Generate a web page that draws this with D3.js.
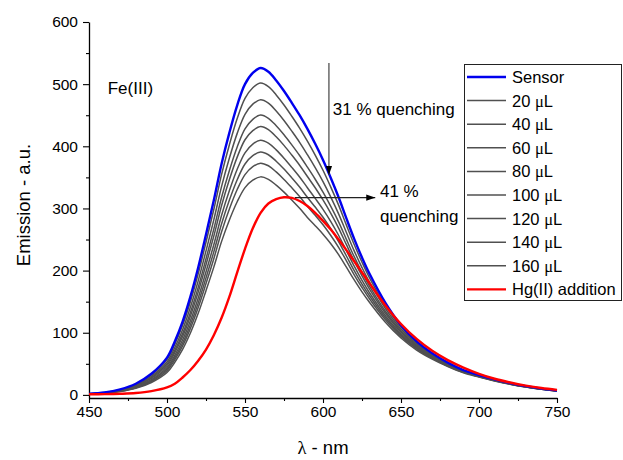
<!DOCTYPE html>
<html>
<head>
<meta charset="utf-8">
<script src="https://cdn.jsdelivr.net/npm/d3@7"></script>
<style>
body { margin: 0; background: #fff; }
text { font-family: "Liberation Sans", Arial, sans-serif; fill: #000; }
</style>
</head>
<body>
<svg id="chart" width="623" height="460"></svg>
<script>
// wavelengths, nm
var wavelengths = [450,460,470,480,490,500,505,510,515,520,525,530,535,540,545,550,555,560,565,570,575,580,585,590,595,600,605,610,615,620,625,630,640,650,660,670,680,690,700,710,720,730,740,750];

var sensor = [2,4,9,18,34,60,86,118,158,205,258,313,372,422,466,500,518,526,520,506,489,470,450,428,404,378,349,318,284,251,221,194,148,112,86,67,52,40,32,25,19,14,10,7];
var ul20  = [1.9,3.8,8.5,17.0,32.1,56.7,81.4,111.9,149.9,194.8,245.6,298.3,354.9,402.6,444.6,477.0,494.2,501.8,496.1,482.7,466.5,448.4,429.3,408.3,385.8,361.4,334.3,305.3,273.2,242.0,213.5,187.6,143.7,109.2,84.1,65.7,51.1,39.4,31.6,24.7,18.7,13.8,9.9,6.9];
var ul40  = [1.8,3.5,7.9,15.8,29.9,53.0,76.3,104.9,140.9,183.5,231.7,281.7,335.5,381.1,420.8,451.5,467.8,475.0,469.6,456.9,441.6,424.4,406.4,386.5,365.6,343.2,318.3,291.3,261.3,231.7,204.9,180.6,139.0,106.1,82.0,64.3,50.1,38.7,31.1,24.3,18.4,13.6,9.7,6.8];
var ul60  = [1.6,3.3,7.4,14.8,27.9,49.6,71.6,98.6,132.7,173.0,219.0,266.7,318.1,361.2,398.9,428.0,443.4,450.3,445.1,433.1,418.6,402.3,385.2,366.4,347.0,326.2,303.3,278.3,250.2,222.4,197.1,174.2,134.5,103.2,80.1,63.0,49.2,38.1,30.6,23.9,18.2,13.4,9.6,6.7];
var ul80  = [1.6,3.1,7.0,14.0,26.4,47.1,68.0,93.9,126.6,165.4,209.5,255.4,304.7,346.5,382.6,410.5,425.3,431.8,426.9,415.4,401.5,385.9,369.5,351.4,333.3,313.7,292.1,268.4,241.7,215.6,191.4,169.4,131.3,101.0,78.6,62.0,48.6,37.6,30.3,23.7,18.0,13.2,9.5,6.6];
var ul100 = [1.4,2.9,6.5,13.0,24.6,44.1,63.7,88.3,119.3,156.0,198.1,241.6,289.0,328.7,363.0,389.5,403.5,409.8,405.1,394.2,380.9,366.1,350.6,333.4,316.3,298.6,278.9,256.9,232.0,207.1,184.3,163.5,127.4,98.3,76.9,60.8,47.7,37.1,29.9,23.4,17.7,13.1,9.3,6.5];
var ul120 = [1.4,2.7,6.1,12.2,23.1,41.5,60.1,83.4,113.0,148.0,188.3,230.1,275.3,313.5,346.2,371.5,384.9,390.8,386.4,376.0,363.3,349.2,334.4,318.0,302.2,285.8,267.3,246.8,223.5,200.0,178.3,158.7,124.0,96.2,75.4,59.8,47.1,36.6,29.5,23.1,17.5,12.9,9.2,6.5];
var ul140 = [1.3,2.5,5.7,11.4,21.6,39.1,56.7,78.8,107.0,140.6,179.1,219.1,262.6,299.2,330.4,354.5,367.3,372.9,368.7,358.8,346.7,333.2,319.1,303.5,288.9,273.7,256.5,237.5,215.6,193.3,172.8,153.8,120.9,94.1,74.0,58.8,46.4,36.2,29.2,22.8,17.3,12.8,9.1,6.4];
var ul160 = [1.2,2.3,5.3,10.5,19.9,36.0,52.5,73.2,99.5,131.2,167.7,205.6,247.0,281.5,310.8,333.5,345.5,350.8,346.8,337.5,326.2,313.5,300.2,285.5,272.3,258.6,243.3,225.8,205.6,185.0,165.8,148.2,116.9,91.5,72.2,57.6,45.6,35.6,28.8,22.5,17.1,12.6,9.0,6.3];
var hgAddition = [1,1.2,1.8,3,6,12,18,28,40,55,73,96,124,158,197,235,268,293,308,315,318,317,312,304,293,280,266,250,233,215,197,179,144,114,90,71,56,44,34,26,20,15,11,8];

var grayLabels = ["20 μL","40 μL","60 μL","80 μL","100 μL","120 μL","140 μL","160 μL"];
var grayData = [ul20, ul40, ul60, ul80, ul100, ul120, ul140, ul160];

var xTicks = [450,500,550,600,650,700,750];
var xMinor = [475,525,575,625,675,725];
var yTicks = [0,100,200,300,400,500,600];
var yMinor = [50,150,250,350,450,550];

var svg = d3.select("#chart");

var x = d3.scaleLinear().domain([450, 750]).range([89, 557]);
var y = d3.scaleLinear().domain([-5, 600]).range([398, 22]);

//оси
svg.append("g").attr("transform", "translate(0,398)")
    .call(d3.axisBottom(x).tickValues(xTicks).tickSize(5).tickPadding(3).tickSizeOuter(0));
svg.append("g").attr("transform", "translate(0,398)")
    .call(d3.axisBottom(x).tickValues(xMinor).tickSize(3).tickFormat("").tickSizeOuter(0))
    .select(".domain").remove();
svg.append("g").attr("transform", "translate(89,0)")
    .call(d3.axisLeft(y).tickValues(yTicks).tickSize(6).tickPadding(5).tickSizeOuter(0));
svg.append("g").attr("transform", "translate(89,0)")
    .call(d3.axisLeft(y).tickValues(yMinor).tickSize(3).tickFormat("").tickSizeOuter(0))
    .select(".domain").remove();

svg.selectAll(".domain").attr("stroke", "#000").attr("stroke-width", 1.3);
svg.selectAll(".tick line").attr("stroke", "#000").attr("stroke-width", 1.1);
svg.selectAll(".tick text").attr("font-family", "Liberation Sans, Arial, sans-serif")
    .attr("font-size", 15.5).attr("fill", "#111");

svg.append("text")
    .attr("transform", "translate(30,205) rotate(-90)")
    .attr("text-anchor", "middle")
    .attr("font-size", 18.5)
    .text("Emission - a.u.");

var xl = svg.append("text")
    .attr("x", x(600)).attr("y", 454)
    .attr("text-anchor", "middle")
    .attr("font-size", 18.5);
xl.append("tspan").attr("font-family", "Liberation Serif, serif").text("λ");
xl.append("tspan").text(" - nm");

// кривые
var line = function(vals) {
    return d3.line()
        .x(function(d, i) { return x(wavelengths[i]); })
        .y(function(d) { return y(d); })
        .curve(d3.curveCatmullRom.alpha(0.5))(vals);
};

grayData.forEach(function(s) {
    svg.append("path").attr("d", line(s))
        .attr("fill", "none").attr("stroke", "#505050").attr("stroke-width", 1.5);
});
svg.append("path").attr("d", line(sensor))
    .attr("fill", "none").attr("stroke", "#0000ee").attr("stroke-width", 2.4);
svg.append("path").attr("d", line(hgAddition))
    .attr("fill", "none").attr("stroke", "#ff0000").attr("stroke-width", 2.4);

// подписи и стрелки
var defs = svg.append("defs");
defs.append("marker").attr("id", "arrow")
    .attr("viewBox", "0 0 10 10").attr("refX", 10).attr("refY", 5)
    .attr("markerWidth", 9).attr("markerHeight", 9)
    .attr("markerUnits", "userSpaceOnUse")
    .attr("orient", "auto")
    .append("path").attr("d", "M0,1.5 L10,5 L0,8.5 Z").attr("fill", "#000");

svg.append("line")
    .attr("x1", x(603.8)).attr("x2", x(603.8))
    .attr("y1", y(534)).attr("y2", y(354))
    .attr("stroke", "#444").attr("stroke-width", 1.2)
    .attr("marker-end", "url(#arrow)");
svg.append("line")
    .attr("x1", x(582)).attr("x2", x(633.5))
    .attr("y1", y(317.5)).attr("y2", y(317.5))
    .attr("stroke", "#222").attr("stroke-width", 1.2)
    .attr("marker-end", "url(#arrow)");

svg.append("text").attr("x", x(462)).attr("y", y(484)).attr("font-size", 17).text("Fe(III)");
svg.append("text").attr("x", x(606.3)).attr("y", y(450)).attr("font-size", 17).text("31 % quenching");
svg.append("text").attr("x", x(636.5)).attr("y", y(318)).attr("font-size", 17).text("41 %");
svg.append("text").attr("x", x(636.5)).attr("y", y(278)).attr("font-size", 17).text("quenching");

// легенда
var legendItems = [{label: "Sensor", color: "#0000ee", w: 2.4}]
    .concat(grayLabels.map(function(l) { return {label: l, color: "#505050", w: 1.5}; }))
    .concat([{label: "Hg(II) addition", color: "#ff0000", w: 2.4}]);

var legend = svg.append("g");
legend.append("rect")
    .attr("x", 464.5).attr("y", 64.5).attr("width", 157).attr("height", 236)
    .attr("fill", "#fff").attr("stroke", "#222").attr("stroke-width", 1);

legendItems.forEach(function(it, i) {
    var ly = 77 + i * 23.6;
    legend.append("line")
        .attr("x1", 467).attr("x2", 506).attr("y1", ly).attr("y2", ly)
        .attr("stroke", it.color).attr("stroke-width", it.w);
    var t = legend.append("text")
        .attr("x", 512).attr("y", ly).attr("dy", "0.36em")
        .attr("font-size", 16.5);
    var m = it.label.indexOf("μ");
    if (m >= 0) {
        t.append("tspan").text(it.label.slice(0, m));
        t.append("tspan").attr("font-family", "Liberation Serif, serif").text("μ");
        t.append("tspan").text(it.label.slice(m + 1));
    } else {
        t.text(it.label);
    }
});
</script>
</body>
</html>
